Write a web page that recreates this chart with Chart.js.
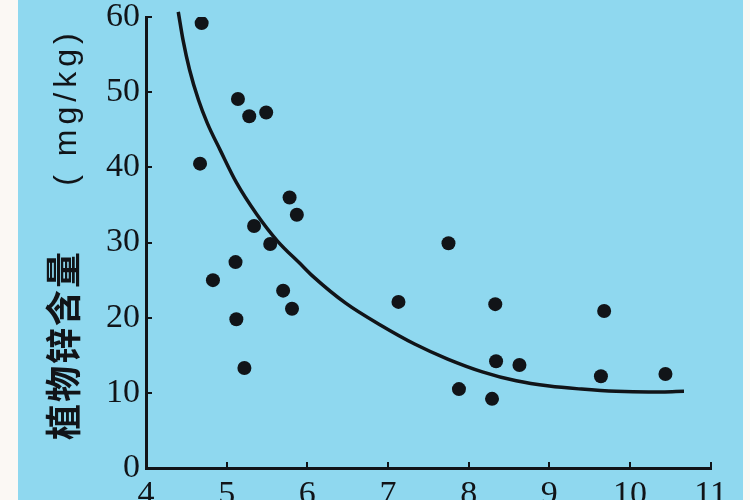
<!DOCTYPE html>
<html>
<head>
<meta charset="utf-8">
<script src="https://cdn.jsdelivr.net/npm/chart.js@4.4.1/dist/chart.umd.min.js"></script>
<style>
  html, body { margin: 0; padding: 0; width: 750px; height: 500px; overflow: hidden; background: #fbf8f4; }
  #wrap { position: absolute; left: 18px; top: 0; width: 725px; height: 528px; background: #8fd8ef; }
</style>
</head>
<body>
<div id="wrap"><canvas id="c"></canvas></div>
<script>
// Scatter observations: soil value (x) vs plant zinc content (y, mg/kg)
const pointX = [4.69, 4.67, 5.14, 5.28, 5.49, 4.83, 5.11, 5.12, 5.22, 5.34, 5.54, 5.78, 5.87, 5.70, 5.81, 7.13, 7.75, 7.88, 8.29, 8.33, 8.34, 8.63, 9.68, 9.64, 10.44];
const pointY = [59.2, 40.5, 49.1, 46.8, 47.3, 25.0, 27.4, 19.8, 13.3, 32.2, 29.8, 36.0, 33.7, 23.6, 21.2, 22.1, 29.9, 10.5, 9.2, 21.8, 14.2, 13.7, 20.9, 12.2, 12.5];
// Fitted curve
const curveX = [4.40, 4.46, 4.54, 4.65, 4.76, 4.92, 5.12, 5.37, 5.63, 5.91, 6.07, 6.48, 6.91, 7.33, 7.74, 8.17, 8.59, 9.00, 9.40, 9.83, 10.23, 10.67];
const curveY = [60.7, 56.9, 53.0, 49.0, 45.9, 42.3, 38.0, 33.8, 30.2, 27.2, 25.5, 21.9, 19.0, 16.5, 14.5, 12.8, 11.6, 10.9, 10.5, 10.2, 10.1, 10.2];
// Axis ticks
const xTicks = [4, 5, 6, 7, 8, 9, 10, 11];
const yTicks = [0, 10, 20, 30, 40, 50, 60];
const yTitleMain = '植物锌含量';
const yTitleUnit = '( mg/kg)';

const ink = '#111418';

const titlePlugin = {
  id: 'yTitle',
  afterDraw(chart) {
    const ctx = chart.ctx;
    ctx.save();
    ctx.fillStyle = ink;
    ctx.textAlign = 'center';
    ctx.textBaseline = 'middle';
    ctx.save();
    ctx.translate(45, 345);
    ctx.rotate(-Math.PI / 2);
    ctx.font = 'bold 36px "Noto Sans CJK SC"';
    try { ctx.letterSpacing = '2px'; } catch (e) {}
    ctx.fillText(yTitleMain, 0, 0);
    ctx.restore();
    ctx.save();
    ctx.translate(49, 107);
    ctx.rotate(-Math.PI / 2);
    ctx.font = '32px "Liberation Sans"';
    try { ctx.letterSpacing = '5px'; } catch (e) {}
    ctx.fillText(yTitleUnit, 0, 0);
    ctx.restore();
    ctx.restore();
  }
};

new Chart(document.getElementById('c'), {
  type: 'scatter',
  data: {
    datasets: [
      {
        data: pointX.map((x, i) => ({ x, y: pointY[i] })),
        pointRadius: 7,
        pointHoverRadius: 7,
        pointBackgroundColor: ink,
        pointBorderColor: ink,
        pointBorderWidth: 0,
        showLine: false
      },
      {
        data: curveX.map((x, i) => ({ x, y: curveY[i] })),
        showLine: true,
        pointRadius: 0,
        borderColor: ink,
        borderWidth: 3.5,
        cubicInterpolationMode: 'monotone',
        clip: false
      }
    ]
  },
  options: {
    responsive: true,
    maintainAspectRatio: false,
    animation: false,
    layout: { padding: { left: 76, right: 31, top: 7, bottom: 0 } },
    plugins: { legend: { display: false }, tooltip: { enabled: false } },
    scales: {
      x: {
        type: 'linear',
        min: xTicks[0],
        max: xTicks[xTicks.length - 1],
        afterBuildTicks: (s) => { s.ticks = xTicks.map(v => ({ value: v })); },
        grid: { drawOnChartArea: false, color: ink, lineWidth: 2, tickLength: -6 },
        border: { color: ink, width: 3 },
        ticks: {
          color: ink,
          padding: 16,
          maxRotation: 0,
          font: { family: '"Liberation Serif"', size: 34, lineHeight: 1 }
        }
      },
      y: {
        type: 'linear',
        min: yTicks[0],
        max: yTicks[yTicks.length - 1],
        afterBuildTicks: (s) => { s.ticks = yTicks.map(v => ({ value: v })); },
        grid: { drawOnChartArea: false, color: ink, lineWidth: 2, tickLength: -6 },
        border: { color: ink, width: 3 },
        ticks: {
          color: ink,
          padding: 12,
          font: { family: '"Liberation Serif"', size: 34, lineHeight: 0.3 }
        }
      }
    }
  },
  plugins: [titlePlugin]
});
</script>
</body>
</html>
